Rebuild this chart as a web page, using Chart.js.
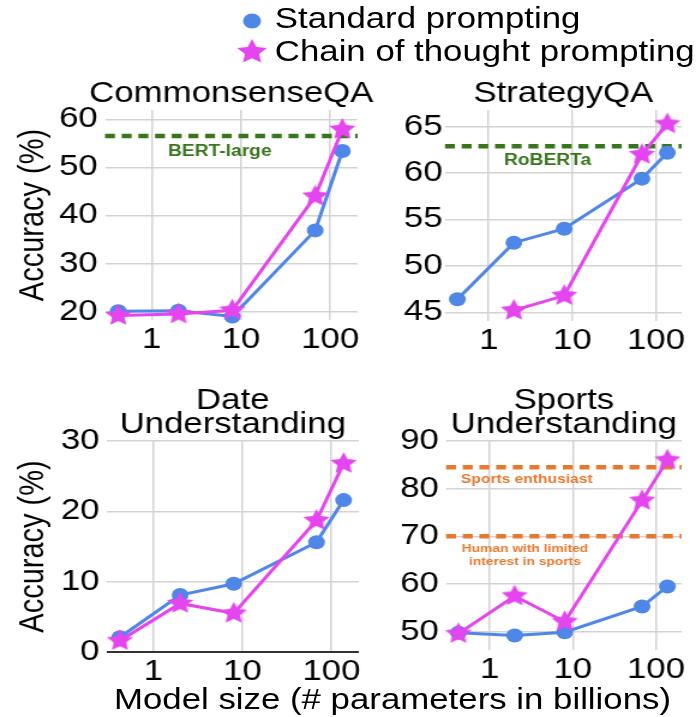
<!DOCTYPE html>
<html>
<head>
<meta charset="utf-8">
<script src="https://cdn.jsdelivr.net/npm/chart.js@4.4.1/dist/chart.umd.min.js"></script>
<style>
  html, body { margin: 0; padding: 0; background: #fff; }
  body { width: 698px; height: 717px; overflow: hidden; position: relative; }
  /* the whole figure is drawn narrow and widened by 1.2 */
  #fig { position: absolute; left: 0; top: 0; width: 582px; height: 717px;
         transform: scaleX(1.2); transform-origin: 0 0;
         font-family: "Liberation Sans", Arial, sans-serif; color: #000; }
  #fig canvas { position: absolute; }
  .txt { position: absolute; font-size: 29px; line-height: 29px; white-space: nowrap; }
</style>
</head>
<body>
<div id="fig">
  <canvas id="legDot" width="30" height="30" style="left:195.4px;top:5.8px"></canvas>
  <div class="txt" style="left:229px;top:4px">Standard prompting</div>
  <canvas id="legStar" width="32" height="32" style="left:194.4px;top:35px"></canvas>
  <div class="txt" style="left:229px;top:36.5px">Chain of thought prompting</div>

  <canvas id="pCsqa" width="320" height="285" style="left:0;top:80px"></canvas>
  <canvas id="pStrategy" width="282" height="286" style="left:300px;top:80px"></canvas>
  <canvas id="pDate" width="320" height="310" style="left:0;top:387px"></canvas>
  <canvas id="pSports" width="282" height="308" style="left:300px;top:387px"></canvas>

  <div class="txt" id="xTitle" style="top:685px">Model size (# parameters in billions)</div>
</div>

<script>
// Model sizes (billions of parameters) shared by every panel
const modelSizes = [0.422, 2, 8, 68, 137];
const xTickValues = [1, 10, 100];
const xTickLabels = ['1', '10', '100'];

// CommonsenseQA
const csqaStandard = [20.1, 20.2, 19.0, 36.9, 53.4];
const csqaCot      = [19.2, 19.5, 20.3, 44.0, 57.9];
const csqaTicks    = [20, 30, 40, 50, 60];
const bertLarge    = 56.5;

// StrategyQA
const strategyStandard = [46.4, 52.5, 54.0, 59.4, 62.2];
const strategyCot      = [null, 45.2, 46.8, 62.0, 65.3];
const strategyTicks    = [45, 50, 55, 60, 65];
const roberta          = 62.9;

// Date Understanding
const dateStandard = [2.1, 8.1, 9.7, 15.6, 21.6];
const dateCot      = [1.6, 6.9, 5.5, 18.7, 26.8];
const dateTicks    = [0, 10, 20, 30];

// Sports Understanding
const sportsStandard = [49.8, 49.2, 49.9, 55.3, 59.5];
const sportsCot      = [49.6, 57.5, 52.1, 77.5, 86.0];
const sportsTicks    = [50, 60, 70, 80, 90];
const sportsEnthusiast = 84.5;
const humanLimited     = 70.0;

const FONT = '"Liberation Sans", Arial, sans-serif';
const BLUE = '#4f87e8';
const MAGENTA = '#e545ee';
const GREEN = '#38761d';
const ORANGE = '#e8782e';
const GRID = '#d3d3d3';
const X_MIN = 0.3, X_MAX = 203;
const TITLE_LINE = 24;

Chart.defaults.font.family = FONT;

function starPath(g, cx, cy, R, r) {
  g.beginPath();
  for (let i = 0; i < 10; i++) {
    const a = -Math.PI / 2 + i * Math.PI / 5;
    const rad = i % 2 === 0 ? R : r;
    const px = cx + rad * Math.cos(a), py = cy + rad * Math.sin(a);
    if (i === 0) g.moveTo(px, py); else g.lineTo(px, py);
  }
  g.closePath();
}

function starImage(R, color) {
  const size = Math.ceil(R * 2 + 2);
  const c = document.createElement('canvas');
  c.width = size; c.height = size;
  const g = c.getContext('2d');
  g.fillStyle = color;
  starPath(g, size / 2, size / 2, R, R * 0.48);
  g.fill();
  return c;
}

// legend symbols
(function () {
  const d = document.getElementById('legDot').getContext('2d');
  d.fillStyle = BLUE;
  d.beginPath(); d.arc(15, 15, 7.5, 0, Math.PI * 2); d.fill();
  const s = document.getElementById('legStar').getContext('2d');
  s.fillStyle = MAGENTA;
  starPath(s, 16, 17, 13, 13 * 0.48);
  s.fill();
})();

const starPoint = starImage(11.5, MAGENTA);

function series(values) {
  return modelSizes.map((x, i) => ({ x: x, y: values[i] }));
}

function makePanel(id, cfg) {
  const titleLines = [].concat(cfg.title);
  const datasets = [
    {
      label: 'Chain of thought prompting',
      data: series(cfg.cot),
      borderColor: MAGENTA, backgroundColor: MAGENTA, borderWidth: 3,
      pointStyle: starPoint, pointRadius: 11, clip: false
    },
    {
      label: 'Standard prompting',
      data: series(cfg.standard),
      borderColor: BLUE, backgroundColor: BLUE, borderWidth: 3,
      pointStyle: 'circle', pointRadius: 7, pointBorderWidth: 0, clip: false
    }
  ];
  cfg.refs.forEach(r => datasets.push({
    label: r.lines.join(' '),
    data: [{ x: X_MIN, y: r.value }, { x: X_MAX, y: r.value }],
    borderColor: r.color, borderWidth: 4.5, borderDash: [8.3, 5.6],
    pointRadius: 0, clip: false
  }));

  // captions under the dashed reference lines
  const refLabels = {
    id: 'refLabels',
    beforeDatasetsDraw(chart) {
      const { ctx } = chart;
      const xs = chart.scales.x, ys = chart.scales.y;
      cfg.refs.forEach(r => {
        ctx.save();
        ctx.font = 'bold ' + r.size + 'px ' + FONT;
        ctx.fillStyle = r.color;
        ctx.textAlign = 'center';
        ctx.textBaseline = 'middle';
        const px = xs.getPixelForValue(r.labelAt);
        const py = ys.getPixelForValue(r.value);
        r.lines.forEach((t, i) => ctx.fillText(t, px, py + r.dy + i * r.gap));
        ctx.restore();
      });
    }
  };

  // panel title centred over the plot area, one or two lines
  const panelTitle = {
    id: 'panelTitle',
    afterDraw(chart) {
      const { ctx, chartArea } = chart;
      const cx = (chartArea.left + chartArea.right) / 2;
      ctx.save();
      ctx.font = '29px ' + FONT;
      ctx.fillStyle = '#000';
      ctx.textAlign = 'center';
      ctx.textBaseline = 'middle';
      const n = titleLines.length;
      titleLines.forEach((t, i) => {
        ctx.fillText(t, cx, chartArea.top - 16.5 - (n - 1 - i) * TITLE_LINE);
      });
      ctx.restore();
    }
  };

  new Chart(document.getElementById(id), {
    type: 'line',
    data: { datasets: datasets },
    plugins: [refLabels, panelTitle],
    options: {
      responsive: false,
      animation: false,
      devicePixelRatio: 1,
      layout: { padding: { top: 6 + titleLines.length * TITLE_LINE, left: 0, right: cfg.padRight, bottom: 0 } },
      elements: { line: { tension: 0 } },
      plugins: {
        legend: { display: false },
        tooltip: { enabled: false },
        title: { display: false }
      },
      scales: {
        x: {
          type: 'logarithmic', min: X_MIN, max: X_MAX,
          afterBuildTicks: s => { s.ticks = xTickValues.map(v => ({ value: v })); },
          afterFit: s => { s.height = 45; },
          ticks: {
            autoSkip: false, maxRotation: 0, minRotation: 0, color: '#000', padding: 3,
            font: { family: FONT, size: 29 },
            callback: (v, i) => xTickLabels[i]
          },
          grid: { color: GRID, lineWidth: 1.5, drawTicks: false },
          border: { display: false }
        },
        y: {
          min: cfg.yMin, max: cfg.yMax,
          afterBuildTicks: s => { s.ticks = cfg.yTicks.map(v => ({ value: v })); },
          afterFit: s => { s.width = cfg.yWidth; },
          ticks: {
            color: '#000', padding: cfg.tickPad,
            font: { family: FONT, size: 29 },
            callback: v => String(v)
          },
          grid: {
            color: c => (cfg.zeroLine && c.tick && c.tick.value === 0) ? '#333333' : GRID,
            lineWidth: c => (cfg.zeroLine && c.tick && c.tick.value === 0) ? 2 : 1.5,
            drawTicks: false
          },
          border: { display: false },
          title: {
            display: cfg.yTitle, text: 'Accuracy (%)', color: '#000',
            font: { family: FONT, size: 29, lineHeight: 1 },
            padding: { top: 13, bottom: 0 }
          }
        }
      }
    }
  });
}

makePanel('pCsqa', {
  title: 'CommonsenseQA', standard: csqaStandard, cot: csqaCot,
  yTicks: csqaTicks, yMin: 18.27, yMax: 61.93, yWidth: 87.5, tickPad: 6, yTitle: true, padRight: 22,
  refs: [{ value: bertLarge, lines: ['BERT-large'], color: GREEN, size: 16, labelAt: 5.8, dy: 15.5, gap: 0 }]
});
makePanel('pStrategy', {
  title: 'StrategyQA', standard: strategyStandard, cot: strategyCot,
  yTicks: strategyTicks, yMin: 44.06, yMax: 66.8, yWidth: 70.8, tickPad: 2, yTitle: false, padRight: 0,
  refs: [{ value: roberta, lines: ['RoBERTa'], color: GREEN, size: 16, labelAt: 5.06, dy: 14.5, gap: 0 }]
});
makePanel('pDate', {
  title: ['Date', 'Understanding'], standard: dateStandard, cot: dateCot,
  yTicks: dateTicks, yMin: 0, yMax: 30, yWidth: 88.9, tickPad: 6, yTitle: true, zeroLine: true, padRight: 21,
  refs: []
});
makePanel('pSports', {
  title: ['Sports', 'Understanding'], standard: sportsStandard, cot: sportsCot,
  yTicks: sportsTicks, yMin: 46.17, yMax: 90, yWidth: 71.7, tickPad: 6, yTitle: false, padRight: 0,
  refs: [
    { value: sportsEnthusiast, lines: ['Sports enthusiast'], color: ORANGE, size: 13, labelAt: 2.8, dy: 12.5, gap: 0 },
    { value: humanLimited, lines: ['Human with limited', 'interest in sports'], color: ORANGE, size: 11.5, labelAt: 2.66, dy: 12.3, gap: 13 }
  ]
});

// centre the shared x-axis title under both columns
(function () {
  const t = document.getElementById('xTitle');
  t.style.left = (327 - t.offsetWidth / 2) + 'px';
})();
</script>
</body>
</html>
